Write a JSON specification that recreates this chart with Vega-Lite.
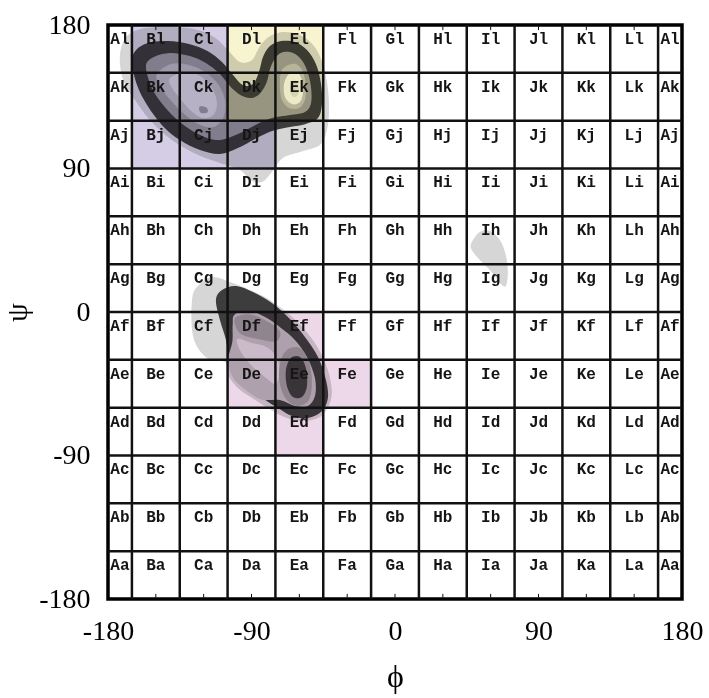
{
  "$schema": "https://vega.github.io/schema/vega-lite/v6.json",
  "width": 574,
  "height": 574,
  "autosize": "none",
  "padding": {"left": 108, "top": 25, "right": 27, "bottom": 99},
  "background": "white",
  "config": {"view": {"stroke": "#000", "strokeWidth": 3.5}},
  "resolve": {"scale": {"color": "independent"}},
  "datasets": {
    "contours": [
      {"s":"s01","lv":1,"i":0,"phi":-172.5,"psi":155.5},{"s":"s01","lv":1,"i":1,"phi":-171.8,"psi":165.5},{"s":"s01","lv":1,"i":2,"phi":-168.1,"psi":173.1},{"s":"s01","lv":1,"i":3,"phi":-159.9,"psi":177.4},{"s":"s01","lv":1,"i":4,"phi":-144.3,"psi":178.7},{"s":"s01","lv":1,"i":5,"phi":-125.5,"psi":177.4},{"s":"s01","lv":1,"i":6,"phi":-113.5,"psi":172.4},{"s":"s01","lv":1,"i":7,"phi":-104.8,"psi":164.3},{"s":"s01","lv":1,"i":8,"phi":-97.2,"psi":156.8},{"s":"s01","lv":1,"i":9,"phi":-89.7,"psi":158.0},{"s":"s01","lv":1,"i":10,"phi":-84.7,"psi":166.8},{"s":"s01","lv":1,"i":11,"phi":-78.4,"psi":173.1},{"s":"s01","lv":1,"i":12,"phi":-69.6,"psi":175.6},{"s":"s01","lv":1,"i":13,"phi":-59.6,"psi":173.7},{"s":"s01","lv":1,"i":14,"phi":-50.8,"psi":166.8},{"s":"s01","lv":1,"i":15,"phi":-45.2,"psi":155.5},{"s":"s01","lv":1,"i":16,"phi":-42.1,"psi":140.4},{"s":"s01","lv":1,"i":17,"phi":-41.4,"psi":125.4},{"s":"s01","lv":1,"i":18,"phi":-42.7,"psi":114.1},{"s":"s01","lv":1,"i":19,"phi":-47.1,"psi":104.7},{"s":"s01","lv":1,"i":20,"phi":-59.6,"psi":100.3},{"s":"s01","lv":1,"i":21,"phi":-70.3,"psi":96.6},{"s":"s01","lv":1,"i":22,"phi":-77.2,"psi":87.8},{"s":"s01","lv":1,"i":23,"phi":-83.4,"psi":81.5},{"s":"s01","lv":1,"i":24,"phi":-91.0,"psi":82.8},{"s":"s01","lv":1,"i":25,"phi":-97.2,"psi":89.0},{"s":"s01","lv":1,"i":26,"phi":-109.8,"psi":93.4},{"s":"s01","lv":1,"i":27,"phi":-124.8,"psi":99.1},{"s":"s01","lv":1,"i":28,"phi":-139.9,"psi":107.8},{"s":"s01","lv":1,"i":29,"phi":-153.7,"psi":120.4},{"s":"s01","lv":1,"i":30,"phi":-163.1,"psi":132.9},{"s":"s01","lv":1,"i":31,"phi":-170.0,"psi":144.2},
      {"s":"s02","lv":2,"i":0,"phi":-165.0,"psi":156.8},{"s":"s02","lv":2,"i":1,"phi":-162.4,"psi":164.3},{"s":"s02","lv":2,"i":2,"phi":-154.9,"psi":168.7},{"s":"s02","lv":2,"i":3,"phi":-142.4,"psi":169.9},{"s":"s02","lv":2,"i":4,"phi":-128.6,"psi":168.0},{"s":"s02","lv":2,"i":5,"phi":-117.3,"psi":163.6},{"s":"s02","lv":2,"i":6,"phi":-108.5,"psi":156.8},{"s":"s02","lv":2,"i":7,"phi":-101.6,"psi":148.6},{"s":"s02","lv":2,"i":8,"phi":-95.4,"psi":142.3},{"s":"s02","lv":2,"i":9,"phi":-89.1,"psi":143.0},{"s":"s02","lv":2,"i":10,"phi":-85.3,"psi":150.5},{"s":"s02","lv":2,"i":11,"phi":-82.8,"psi":159.9},{"s":"s02","lv":2,"i":12,"phi":-78.4,"psi":166.8},{"s":"s02","lv":2,"i":13,"phi":-71.5,"psi":169.9},{"s":"s02","lv":2,"i":14,"phi":-62.8,"psi":169.3},{"s":"s02","lv":2,"i":15,"phi":-55.2,"psi":164.3},{"s":"s02","lv":2,"i":16,"phi":-49.6,"psi":155.5},{"s":"s02","lv":2,"i":17,"phi":-46.4,"psi":143.0},{"s":"s02","lv":2,"i":18,"phi":-45.8,"psi":130.4},{"s":"s02","lv":2,"i":19,"phi":-48.3,"psi":121.6},{"s":"s02","lv":2,"i":20,"phi":-55.9,"psi":117.9},{"s":"s02","lv":2,"i":21,"phi":-65.9,"psi":116.0},{"s":"s02","lv":2,"i":22,"phi":-77.2,"psi":113.5},{"s":"s02","lv":2,"i":23,"phi":-87.8,"psi":108.5},{"s":"s02","lv":2,"i":24,"phi":-98.5,"psi":102.8},{"s":"s02","lv":2,"i":25,"phi":-109.8,"psi":99.1},{"s":"s02","lv":2,"i":26,"phi":-122.3,"psi":101.6},{"s":"s02","lv":2,"i":27,"phi":-134.9,"psi":107.8},{"s":"s02","lv":2,"i":28,"phi":-146.1,"psi":117.2},{"s":"s02","lv":2,"i":29,"phi":-155.5,"psi":129.8},{"s":"s02","lv":2,"i":30,"phi":-161.8,"psi":142.3},
      {"s":"s03","lv":3,"i":0,"phi":-156.2,"psi":154.2},{"s":"s03","lv":3,"i":1,"phi":-151.2,"psi":159.9},{"s":"s03","lv":3,"i":2,"phi":-141.1,"psi":162.4},{"s":"s03","lv":3,"i":3,"phi":-128.6,"psi":160.5},{"s":"s03","lv":3,"i":4,"phi":-118.6,"psi":156.1},{"s":"s03","lv":3,"i":5,"phi":-109.8,"psi":149.2},{"s":"s03","lv":3,"i":6,"phi":-102.3,"psi":140.4},{"s":"s03","lv":3,"i":7,"phi":-94.1,"psi":134.8},{"s":"s03","lv":3,"i":8,"phi":-86.6,"psi":135.4},{"s":"s03","lv":3,"i":9,"phi":-80.9,"psi":143.0},{"s":"s03","lv":3,"i":10,"phi":-77.8,"psi":154.2},{"s":"s03","lv":3,"i":11,"phi":-72.8,"psi":161.8},{"s":"s03","lv":3,"i":12,"phi":-65.9,"psi":163.0},{"s":"s03","lv":3,"i":13,"phi":-59.6,"psi":159.3},{"s":"s03","lv":3,"i":14,"phi":-55.2,"psi":151.7},{"s":"s03","lv":3,"i":15,"phi":-52.7,"psi":141.1},{"s":"s03","lv":3,"i":16,"phi":-52.7,"psi":131.0},{"s":"s03","lv":3,"i":17,"phi":-56.5,"psi":125.4},{"s":"s03","lv":3,"i":18,"phi":-65.9,"psi":123.5},{"s":"s03","lv":3,"i":19,"phi":-77.2,"psi":121.6},{"s":"s03","lv":3,"i":20,"phi":-87.8,"psi":117.2},{"s":"s03","lv":3,"i":21,"phi":-98.5,"psi":111.6},{"s":"s03","lv":3,"i":22,"phi":-111.0,"psi":107.8},{"s":"s03","lv":3,"i":23,"phi":-123.6,"psi":111.6},{"s":"s03","lv":3,"i":24,"phi":-134.9,"psi":119.1},{"s":"s03","lv":3,"i":25,"phi":-144.9,"psi":129.2},{"s":"s03","lv":3,"i":26,"phi":-152.4,"psi":140.4},
      {"s":"s04","lv":4,"i":0,"phi":-149.3,"psi":149.2},{"s":"s04","lv":4,"i":1,"phi":-140.5,"psi":155.5},{"s":"s04","lv":4,"i":2,"phi":-129.2,"psi":154.9},{"s":"s04","lv":4,"i":3,"phi":-119.2,"psi":150.5},{"s":"s04","lv":4,"i":4,"phi":-111.0,"psi":143.0},{"s":"s04","lv":4,"i":5,"phi":-106.6,"psi":132.9},{"s":"s04","lv":4,"i":6,"phi":-107.3,"psi":122.9},{"s":"s04","lv":4,"i":7,"phi":-113.5,"psi":116.0},{"s":"s04","lv":4,"i":8,"phi":-123.6,"psi":117.9},{"s":"s04","lv":4,"i":9,"phi":-133.6,"psi":125.4},{"s":"s04","lv":4,"i":10,"phi":-143.0,"psi":135.4},{"s":"s04","lv":4,"i":11,"phi":-148.0,"psi":143.0},
      {"s":"s05","lv":5,"i":0,"phi":-141.1,"psi":146.7},{"s":"s05","lv":5,"i":1,"phi":-131.7,"psi":150.5},{"s":"s05","lv":5,"i":2,"phi":-122.3,"psi":148.0},{"s":"s05","lv":5,"i":3,"phi":-114.8,"psi":140.4},{"s":"s05","lv":5,"i":4,"phi":-111.7,"psi":131.7},{"s":"s05","lv":5,"i":5,"phi":-113.5,"psi":124.1},{"s":"s05","lv":5,"i":6,"phi":-120.4,"psi":121.6},{"s":"s05","lv":5,"i":7,"phi":-128.6,"psi":126.7},{"s":"s05","lv":5,"i":8,"phi":-136.1,"psi":135.4},{"s":"s05","lv":5,"i":9,"phi":-140.5,"psi":141.7},
      {"s":"s06","lv":3,"i":0,"phi":-122.6,"psi":128.8},{"s":"s06","lv":3,"i":1,"phi":-118.3,"psi":128.2},{"s":"s06","lv":3,"i":2,"phi":-117.6,"psi":125.2},{"s":"s06","lv":3,"i":3,"phi":-121.9,"psi":125.0},
      {"s":"s07","lv":4,"i":0,"phi":-68.4,"psi":154.2},{"s":"s07","lv":4,"i":1,"phi":-62.1,"psi":155.5},{"s":"s07","lv":4,"i":2,"phi":-57.7,"psi":150.5},{"s":"s07","lv":4,"i":3,"phi":-55.9,"psi":141.7},{"s":"s07","lv":4,"i":4,"phi":-56.5,"psi":132.9},{"s":"s07","lv":4,"i":5,"phi":-60.2,"psi":127.9},{"s":"s07","lv":4,"i":6,"phi":-66.5,"psi":127.9},{"s":"s07","lv":4,"i":7,"phi":-70.9,"psi":132.9},{"s":"s07","lv":4,"i":8,"phi":-72.2,"psi":141.7},{"s":"s07","lv":4,"i":9,"phi":-71.5,"psi":150.5},
      {"s":"s08","lv":6,"i":0,"phi":-66.5,"psi":149.2},{"s":"s08","lv":6,"i":1,"phi":-61.5,"psi":150.5},{"s":"s08","lv":6,"i":2,"phi":-58.4,"psi":145.5},{"s":"s08","lv":6,"i":3,"phi":-57.7,"psi":137.9},{"s":"s08","lv":6,"i":4,"phi":-59.6,"psi":131.7},{"s":"s08","lv":6,"i":5,"phi":-64.6,"psi":130.4},{"s":"s08","lv":6,"i":6,"phi":-69.0,"psi":134.8},{"s":"s08","lv":6,"i":7,"phi":-69.6,"psi":143.0},
      {"s":"s09","lv":5,"i":0,"phi":-64.6,"psi":144.2},{"s":"s09","lv":5,"i":1,"phi":-61.5,"psi":144.8},{"s":"s09","lv":5,"i":2,"phi":-60.2,"psi":139.8},{"s":"s09","lv":5,"i":3,"phi":-61.5,"psi":135.4},{"s":"s09","lv":5,"i":4,"phi":-64.6,"psi":135.4},{"s":"s09","lv":5,"i":5,"phi":-65.9,"psi":139.8},
      {"s":"s10","lv":1,"i":0,"phi":-127.3,"psi":7.5},{"s":"s10","lv":1,"i":1,"phi":-124.2,"psi":15.7},{"s":"s10","lv":1,"i":2,"phi":-114.8,"psi":21.9},{"s":"s10","lv":1,"i":3,"phi":-103.5,"psi":18.8},{"s":"s10","lv":1,"i":4,"phi":-91.0,"psi":13.8},{"s":"s10","lv":1,"i":5,"phi":-78.4,"psi":7.5},{"s":"s10","lv":1,"i":6,"phi":-65.9,"psi":-1.9},{"s":"s10","lv":1,"i":7,"phi":-56.5,"psi":-11.3},{"s":"s10","lv":1,"i":8,"phi":-48.3,"psi":-22.6},{"s":"s10","lv":1,"i":9,"phi":-42.1,"psi":-36.4},{"s":"s10","lv":1,"i":10,"phi":-39.6,"psi":-50.2},{"s":"s10","lv":1,"i":11,"phi":-42.1,"psi":-60.2},{"s":"s10","lv":1,"i":12,"phi":-48.3,"psi":-66.5},{"s":"s10","lv":1,"i":13,"phi":-59.6,"psi":-68.3},{"s":"s10","lv":1,"i":14,"phi":-70.9,"psi":-65.2},{"s":"s10","lv":1,"i":15,"phi":-79.7,"psi":-60.2},{"s":"s10","lv":1,"i":16,"phi":-89.7,"psi":-53.9},{"s":"s10","lv":1,"i":17,"phi":-98.5,"psi":-47.7},{"s":"s10","lv":1,"i":18,"phi":-104.8,"psi":-39.5},{"s":"s10","lv":1,"i":19,"phi":-106.6,"psi":-31.4},{"s":"s10","lv":1,"i":20,"phi":-116.0,"psi":-30.1},{"s":"s10","lv":1,"i":21,"phi":-123.6,"psi":-22.6},{"s":"s10","lv":1,"i":22,"phi":-127.3,"psi":-11.3},
      {"s":"s11","lv":2,"i":0,"phi":-112.3,"psi":7.5},{"s":"s11","lv":2,"i":1,"phi":-108.5,"psi":13.8},{"s":"s11","lv":2,"i":2,"phi":-99.7,"psi":16.3},{"s":"s11","lv":2,"i":3,"phi":-89.1,"psi":12.5},{"s":"s11","lv":2,"i":4,"phi":-77.2,"psi":5.6},{"s":"s11","lv":2,"i":5,"phi":-65.9,"psi":-4.4},{"s":"s11","lv":2,"i":6,"phi":-56.5,"psi":-15.7},{"s":"s11","lv":2,"i":7,"phi":-48.3,"psi":-28.2},{"s":"s11","lv":2,"i":8,"phi":-43.3,"psi":-42.6},{"s":"s11","lv":2,"i":9,"phi":-42.1,"psi":-53.9},{"s":"s11","lv":2,"i":10,"phi":-45.8,"psi":-62.1},{"s":"s11","lv":2,"i":11,"phi":-54.6,"psi":-66.5},{"s":"s11","lv":2,"i":12,"phi":-64.6,"psi":-65.2},{"s":"s11","lv":2,"i":13,"phi":-73.4,"psi":-60.2},{"s":"s11","lv":2,"i":14,"phi":-83.4,"psi":-53.9},{"s":"s11","lv":2,"i":15,"phi":-93.5,"psi":-47.7},{"s":"s11","lv":2,"i":16,"phi":-101.0,"psi":-40.1},{"s":"s11","lv":2,"i":17,"phi":-104.1,"psi":-30.1},{"s":"s11","lv":2,"i":18,"phi":-106.0,"psi":-17.6},{"s":"s11","lv":2,"i":19,"phi":-109.8,"psi":-5.0},
      {"s":"s12","lv":4,"i":0,"phi":-100.5,"psi":-1.5},{"s":"s12","lv":4,"i":1,"phi":-91.0,"psi":0.5},{"s":"s12","lv":4,"i":2,"phi":-80.9,"psi":-3.5},{"s":"s12","lv":4,"i":3,"phi":-71.5,"psi":-10.0},{"s":"s12","lv":4,"i":4,"phi":-62.8,"psi":-17.5},{"s":"s12","lv":4,"i":5,"phi":-55.2,"psi":-28.2},{"s":"s12","lv":4,"i":6,"phi":-50.2,"psi":-41.4},{"s":"s12","lv":4,"i":7,"phi":-50.2,"psi":-52.7},{"s":"s12","lv":4,"i":8,"phi":-54.6,"psi":-58.9},{"s":"s12","lv":4,"i":9,"phi":-62.8,"psi":-58.9},{"s":"s12","lv":4,"i":10,"phi":-72.2,"psi":-55.2},{"s":"s12","lv":4,"i":11,"phi":-84.0,"psi":-54.8},{"s":"s12","lv":4,"i":12,"phi":-94.3,"psi":-48.5},{"s":"s12","lv":4,"i":13,"phi":-101.8,"psi":-40.8},{"s":"s12","lv":4,"i":14,"phi":-104.6,"psi":-30.1},{"s":"s12","lv":4,"i":15,"phi":-102.0,"psi":-18.5},{"s":"s12","lv":4,"i":16,"phi":-101.8,"psi":-8.0},
      {"s":"s13","lv":3,"i":0,"phi":-100.0,"psi":-3.5},{"s":"s13","lv":3,"i":1,"phi":-91.0,"psi":-1.5},{"s":"s13","lv":3,"i":2,"phi":-80.9,"psi":-5.5},{"s":"s13","lv":3,"i":3,"phi":-72.2,"psi":-12.0},{"s":"s13","lv":3,"i":4,"phi":-74.7,"psi":-18.5},{"s":"s13","lv":3,"i":5,"phi":-85.9,"psi":-17.0},{"s":"s13","lv":3,"i":6,"phi":-95.5,"psi":-14.5},{"s":"s13","lv":3,"i":7,"phi":-99.8,"psi":-9.5},
      {"s":"s14","lv":5,"i":0,"phi":-99.0,"psi":-17.0},{"s":"s14","lv":5,"i":1,"phi":-89.7,"psi":-19.5},{"s":"s14","lv":5,"i":2,"phi":-80.9,"psi":-21.8},{"s":"s14","lv":5,"i":3,"phi":-74.7,"psi":-27.6},{"s":"s14","lv":5,"i":4,"phi":-72.2,"psi":-36.4},{"s":"s14","lv":5,"i":5,"phi":-74.7,"psi":-45.1},{"s":"s14","lv":5,"i":6,"phi":-80.9,"psi":-41.4},{"s":"s14","lv":5,"i":7,"phi":-89.7,"psi":-33.9},{"s":"s14","lv":5,"i":8,"phi":-96.6,"psi":-25.1},
      {"s":"s15","lv":3,"i":0,"phi":-67.8,"psi":-23.8},{"s":"s15","lv":3,"i":1,"phi":-59.6,"psi":-22.6},{"s":"s15","lv":3,"i":2,"phi":-54.0,"psi":-31.4},{"s":"s15","lv":3,"i":3,"phi":-52.1,"psi":-43.9},{"s":"s15","lv":3,"i":4,"phi":-54.0,"psi":-55.2},{"s":"s15","lv":3,"i":5,"phi":-60.9,"psi":-58.9},{"s":"s15","lv":3,"i":6,"phi":-67.8,"psi":-55.2},{"s":"s15","lv":3,"i":7,"phi":-72.2,"psi":-45.1},{"s":"s15","lv":3,"i":8,"phi":-72.2,"psi":-32.6},
      {"s":"s16","lv":2,"i":0,"phi":-65.3,"psi":-28.8},{"s":"s16","lv":2,"i":1,"phi":-59.6,"psi":-28.2},{"s":"s16","lv":2,"i":2,"phi":-55.9,"psi":-35.1},{"s":"s16","lv":2,"i":3,"phi":-55.2,"psi":-46.4},{"s":"s16","lv":2,"i":4,"phi":-58.4,"psi":-53.3},{"s":"s16","lv":2,"i":5,"phi":-64.0,"psi":-53.3},{"s":"s16","lv":2,"i":6,"phi":-67.8,"psi":-46.4},{"s":"s16","lv":2,"i":7,"phi":-68.4,"psi":-36.4},
      {"s":"s17","lv":1,"i":0,"phi":48.9,"psi":45.1},{"s":"s17","lv":1,"i":1,"phi":53.2,"psi":50.2},{"s":"s17","lv":1,"i":2,"phi":59.5,"psi":50.8},{"s":"s17","lv":1,"i":3,"phi":65.8,"psi":45.1},{"s":"s17","lv":1,"i":4,"phi":69.5,"psi":35.7},{"s":"s17","lv":1,"i":5,"phi":70.8,"psi":25.1},{"s":"s17","lv":1,"i":6,"phi":69.5,"psi":16.3},{"s":"s17","lv":1,"i":7,"phi":65.8,"psi":18.2},{"s":"s17","lv":1,"i":8,"phi":59.5,"psi":26.3},{"s":"s17","lv":1,"i":9,"phi":52.0,"psi":33.9},{"s":"s17","lv":1,"i":10,"phi":47.6,"psi":40.1}
    ],
    "zones": [
      {"zone":"beta","phi0":-165,"phi1":-105,"psi0":90,"psi1":180},
      {"zone":"beta","phi0":-105,"phi1":-75,"psi0":90,"psi1":120},
      {"zone":"ppii","phi0":-105,"phi1":-45,"psi0":120,"psi1":180},
      {"zone":"alpha","phi0":-105,"phi1":-45,"psi0":-60,"psi1":0},
      {"zone":"alpha","phi0":-45,"phi1":-15,"psi0":-60,"psi1":-30},
      {"zone":"alpha","phi0":-75,"phi1":-45,"psi0":-90,"psi1":-60}
    ],
    "vlines": [{"phi":-165},{"phi":-135},{"phi":-105},{"phi":-75},{"phi":-45},{"phi":-15},{"phi":15},{"phi":45},{"phi":75},{"phi":105},{"phi":135},{"phi":165}],
    "hlines": [{"psi":-150},{"psi":-120},{"psi":-90},{"psi":-60},{"psi":-30},{"psi":0},{"psi":30},{"psi":60},{"psi":90},{"psi":120},{"psi":150}],
    "ticks": [{"phi":-150},{"phi":-120},{"phi":-90},{"phi":-60},{"phi":-30},{"phi":0},{"phi":30},{"phi":60},{"phi":90},{"phi":120},{"phi":150}],
    "cells": [
      {"t":"Aa","phi":-172.5,"psi":-165},{"t":"Ab","phi":-172.5,"psi":-135},{"t":"Ac","phi":-172.5,"psi":-105},{"t":"Ad","phi":-172.5,"psi":-75},{"t":"Ae","phi":-172.5,"psi":-45},{"t":"Af","phi":-172.5,"psi":-15},{"t":"Ag","phi":-172.5,"psi":15},{"t":"Ah","phi":-172.5,"psi":45},{"t":"Ai","phi":-172.5,"psi":75},{"t":"Aj","phi":-172.5,"psi":105},{"t":"Ak","phi":-172.5,"psi":135},{"t":"Al","phi":-172.5,"psi":165},
      {"t":"Ba","phi":-150,"psi":-165},{"t":"Bb","phi":-150,"psi":-135},{"t":"Bc","phi":-150,"psi":-105},{"t":"Bd","phi":-150,"psi":-75},{"t":"Be","phi":-150,"psi":-45},{"t":"Bf","phi":-150,"psi":-15},{"t":"Bg","phi":-150,"psi":15},{"t":"Bh","phi":-150,"psi":45},{"t":"Bi","phi":-150,"psi":75},{"t":"Bj","phi":-150,"psi":105},{"t":"Bk","phi":-150,"psi":135},{"t":"Bl","phi":-150,"psi":165},
      {"t":"Ca","phi":-120,"psi":-165},{"t":"Cb","phi":-120,"psi":-135},{"t":"Cc","phi":-120,"psi":-105},{"t":"Cd","phi":-120,"psi":-75},{"t":"Ce","phi":-120,"psi":-45},{"t":"Cf","phi":-120,"psi":-15},{"t":"Cg","phi":-120,"psi":15},{"t":"Ch","phi":-120,"psi":45},{"t":"Ci","phi":-120,"psi":75},{"t":"Cj","phi":-120,"psi":105},{"t":"Ck","phi":-120,"psi":135},{"t":"Cl","phi":-120,"psi":165},
      {"t":"Da","phi":-90,"psi":-165},{"t":"Db","phi":-90,"psi":-135},{"t":"Dc","phi":-90,"psi":-105},{"t":"Dd","phi":-90,"psi":-75},{"t":"De","phi":-90,"psi":-45},{"t":"Df","phi":-90,"psi":-15},{"t":"Dg","phi":-90,"psi":15},{"t":"Dh","phi":-90,"psi":45},{"t":"Di","phi":-90,"psi":75},{"t":"Dj","phi":-90,"psi":105},{"t":"Dk","phi":-90,"psi":135},{"t":"Dl","phi":-90,"psi":165},
      {"t":"Ea","phi":-60,"psi":-165},{"t":"Eb","phi":-60,"psi":-135},{"t":"Ec","phi":-60,"psi":-105},{"t":"Ed","phi":-60,"psi":-75},{"t":"Ee","phi":-60,"psi":-45},{"t":"Ef","phi":-60,"psi":-15},{"t":"Eg","phi":-60,"psi":15},{"t":"Eh","phi":-60,"psi":45},{"t":"Ei","phi":-60,"psi":75},{"t":"Ej","phi":-60,"psi":105},{"t":"Ek","phi":-60,"psi":135},{"t":"El","phi":-60,"psi":165},
      {"t":"Fa","phi":-30,"psi":-165},{"t":"Fb","phi":-30,"psi":-135},{"t":"Fc","phi":-30,"psi":-105},{"t":"Fd","phi":-30,"psi":-75},{"t":"Fe","phi":-30,"psi":-45},{"t":"Ff","phi":-30,"psi":-15},{"t":"Fg","phi":-30,"psi":15},{"t":"Fh","phi":-30,"psi":45},{"t":"Fi","phi":-30,"psi":75},{"t":"Fj","phi":-30,"psi":105},{"t":"Fk","phi":-30,"psi":135},{"t":"Fl","phi":-30,"psi":165},
      {"t":"Ga","phi":0,"psi":-165},{"t":"Gb","phi":0,"psi":-135},{"t":"Gc","phi":0,"psi":-105},{"t":"Gd","phi":0,"psi":-75},{"t":"Ge","phi":0,"psi":-45},{"t":"Gf","phi":0,"psi":-15},{"t":"Gg","phi":0,"psi":15},{"t":"Gh","phi":0,"psi":45},{"t":"Gi","phi":0,"psi":75},{"t":"Gj","phi":0,"psi":105},{"t":"Gk","phi":0,"psi":135},{"t":"Gl","phi":0,"psi":165},
      {"t":"Ha","phi":30,"psi":-165},{"t":"Hb","phi":30,"psi":-135},{"t":"Hc","phi":30,"psi":-105},{"t":"Hd","phi":30,"psi":-75},{"t":"He","phi":30,"psi":-45},{"t":"Hf","phi":30,"psi":-15},{"t":"Hg","phi":30,"psi":15},{"t":"Hh","phi":30,"psi":45},{"t":"Hi","phi":30,"psi":75},{"t":"Hj","phi":30,"psi":105},{"t":"Hk","phi":30,"psi":135},{"t":"Hl","phi":30,"psi":165},
      {"t":"Ia","phi":60,"psi":-165},{"t":"Ib","phi":60,"psi":-135},{"t":"Ic","phi":60,"psi":-105},{"t":"Id","phi":60,"psi":-75},{"t":"Ie","phi":60,"psi":-45},{"t":"If","phi":60,"psi":-15},{"t":"Ig","phi":60,"psi":15},{"t":"Ih","phi":60,"psi":45},{"t":"Ii","phi":60,"psi":75},{"t":"Ij","phi":60,"psi":105},{"t":"Ik","phi":60,"psi":135},{"t":"Il","phi":60,"psi":165},
      {"t":"Ja","phi":90,"psi":-165},{"t":"Jb","phi":90,"psi":-135},{"t":"Jc","phi":90,"psi":-105},{"t":"Jd","phi":90,"psi":-75},{"t":"Je","phi":90,"psi":-45},{"t":"Jf","phi":90,"psi":-15},{"t":"Jg","phi":90,"psi":15},{"t":"Jh","phi":90,"psi":45},{"t":"Ji","phi":90,"psi":75},{"t":"Jj","phi":90,"psi":105},{"t":"Jk","phi":90,"psi":135},{"t":"Jl","phi":90,"psi":165},
      {"t":"Ka","phi":120,"psi":-165},{"t":"Kb","phi":120,"psi":-135},{"t":"Kc","phi":120,"psi":-105},{"t":"Kd","phi":120,"psi":-75},{"t":"Ke","phi":120,"psi":-45},{"t":"Kf","phi":120,"psi":-15},{"t":"Kg","phi":120,"psi":15},{"t":"Kh","phi":120,"psi":45},{"t":"Ki","phi":120,"psi":75},{"t":"Kj","phi":120,"psi":105},{"t":"Kk","phi":120,"psi":135},{"t":"Kl","phi":120,"psi":165},
      {"t":"La","phi":150,"psi":-165},{"t":"Lb","phi":150,"psi":-135},{"t":"Lc","phi":150,"psi":-105},{"t":"Ld","phi":150,"psi":-75},{"t":"Le","phi":150,"psi":-45},{"t":"Lf","phi":150,"psi":-15},{"t":"Lg","phi":150,"psi":15},{"t":"Lh","phi":150,"psi":45},{"t":"Li","phi":150,"psi":75},{"t":"Lj","phi":150,"psi":105},{"t":"Lk","phi":150,"psi":135},{"t":"Ll","phi":150,"psi":165},
      {"t":"Aa","phi":172.5,"psi":-165},{"t":"Ab","phi":172.5,"psi":-135},{"t":"Ac","phi":172.5,"psi":-105},{"t":"Ad","phi":172.5,"psi":-75},{"t":"Ae","phi":172.5,"psi":-45},{"t":"Af","phi":172.5,"psi":-15},{"t":"Ag","phi":172.5,"psi":15},{"t":"Ah","phi":172.5,"psi":45},{"t":"Ai","phi":172.5,"psi":75},{"t":"Aj","phi":172.5,"psi":105},{"t":"Ak","phi":172.5,"psi":135},{"t":"Al","phi":172.5,"psi":165}
    ]
  },
  "layer": [
    {
      "data": {"name": "contours"},
      "mark": {"type": "line", "filled": true, "interpolate": "cardinal-closed", "clip": true, "strokeWidth": 0},
      "encoding": {
        "x": {
          "field": "phi", "type": "quantitative",
          "scale": {"domain": [-180, 180], "nice": false, "zero": false},
          "axis": {
            "title": "ϕ", "values": [-180, -90, 0, 90, 180], "labelExpr": "'' + datum.value",
            "grid": false, "ticks": false, "domain": false,
            "labelFont": "Liberation Serif", "labelFontSize": 28, "labelColor": "#000",
            "labelPadding": 18, "labelFlush": false, "labelOverlap": false,
            "titleFont": "Liberation Serif", "titleFontSize": 32, "titleFontWeight": "normal",
            "titleColor": "#000", "titlePadding": 16
          }
        },
        "y": {
          "field": "psi", "type": "quantitative",
          "scale": {"domain": [-180, 180], "nice": false, "zero": false},
          "axis": {
            "title": "ψ", "values": [-180, -90, 0, 90, 180], "labelExpr": "'' + datum.value",
            "grid": false, "ticks": false, "domain": false,
            "labelFont": "Liberation Serif", "labelFontSize": 28, "labelColor": "#000",
            "labelPadding": 18, "labelFlush": false, "labelOverlap": false,
            "titleFont": "Liberation Serif", "titleFontSize": 30, "titleFontWeight": "normal",
            "titleColor": "#000", "titlePadding": 6
          }
        },
        "detail": {"field": "s"},
        "order": {"field": "i", "type": "quantitative"},
        "color": {
          "field": "lv", "type": "ordinal", "legend": null,
          "scale": {"domain": [1, 2, 3, 4, 5, 6], "range": ["#d6d6d6", "#3d3d3d", "#9c9c9c", "#bdbdbd", "#dcdcdc", "#f5f5f5"]}
        }
      }
    },
    {
      "data": {"name": "zones"},
      "mark": {"type": "rect", "blend": "multiply"},
      "encoding": {
        "x": {"field": "phi0", "type": "quantitative"},
        "x2": {"field": "phi1"},
        "y": {"field": "psi0", "type": "quantitative"},
        "y2": {"field": "psi1"},
        "color": {
          "field": "zone", "type": "nominal", "legend": null,
          "scale": {"domain": ["beta", "ppii", "alpha"], "range": ["#d4cde5", "#f7f4cf", "#ecd8e9"]}
        }
      }
    },
    {
      "mark": {"type": "rule", "color": "#9a9a9a", "strokeWidth": 1.5},
      "encoding": {"x": {"datum": 0}}
    },
    {
      "data": {"name": "vlines"},
      "mark": {"type": "rule", "color": "#111", "strokeWidth": 2.5},
      "encoding": {"x": {"field": "phi", "type": "quantitative"}}
    },
    {
      "data": {"name": "hlines"},
      "mark": {"type": "rule", "color": "#111", "strokeWidth": 2.5},
      "encoding": {"y": {"field": "psi", "type": "quantitative"}}
    },
    {
      "data": {"name": "ticks"},
      "mark": {"type": "rule", "color": "#111", "strokeWidth": 1},
      "encoding": {
        "x": {"field": "phi", "type": "quantitative"},
        "y": {"datum": -180},
        "y2": {"datum": -176.8}
      }
    },
    {
      "data": {"name": "ticks"},
      "mark": {"type": "rule", "color": "#111", "strokeWidth": 1},
      "encoding": {
        "x": {"field": "phi", "type": "quantitative"},
        "y": {"datum": 180},
        "y2": {"datum": 176.8}
      }
    },
    {
      "data": {"name": "cells"},
      "mark": {"type": "text", "font": "Liberation Mono", "fontWeight": "bold", "fontSize": 16, "dy": -10, "color": "#151515", "baseline": "middle", "align": "center"},
      "encoding": {
        "x": {"field": "phi", "type": "quantitative"},
        "y": {"field": "psi", "type": "quantitative"},
        "text": {"field": "t"}
      }
    }
  ]
}
